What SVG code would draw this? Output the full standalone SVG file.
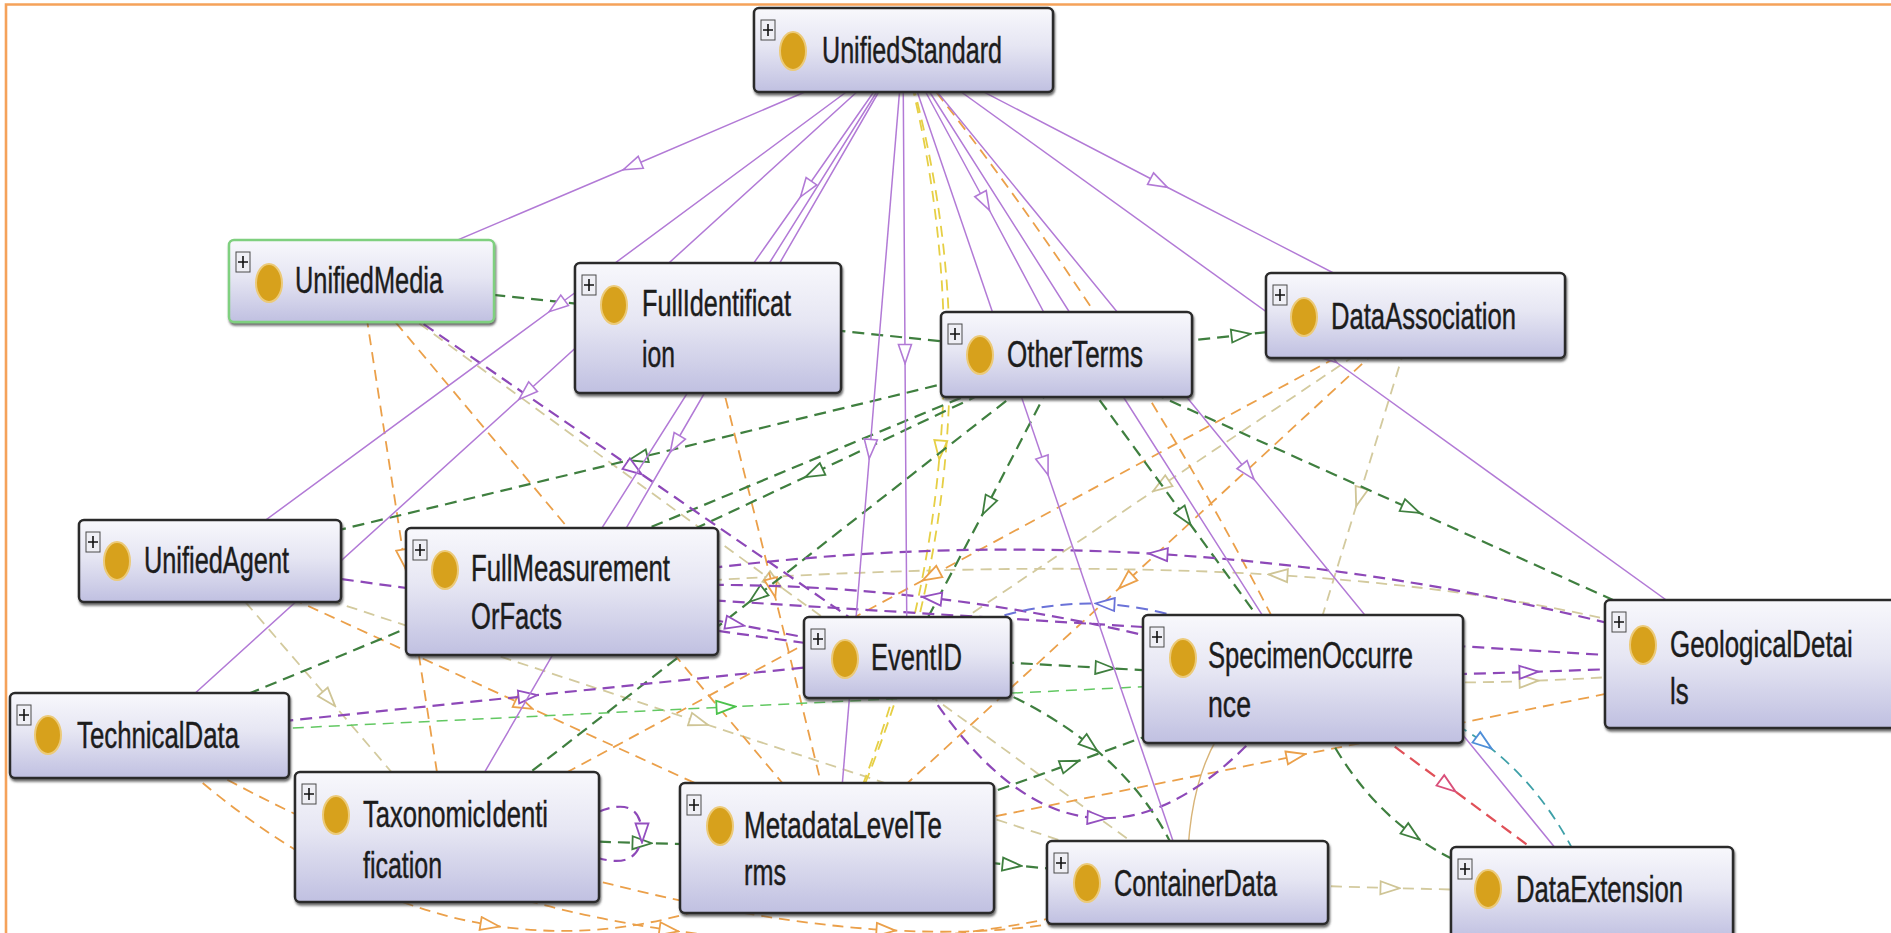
<svg xmlns="http://www.w3.org/2000/svg" width="1891" height="933" viewBox="0 0 1891 933">
  <defs>
    <linearGradient id="boxFill" x1="0" y1="0" x2="0" y2="1">
      <stop offset="0" stop-color="#f8f8fc"/>
      <stop offset="0.45" stop-color="#e6e6f3"/>
      <stop offset="1" stop-color="#c0c0e1"/>
    </linearGradient>
    <filter id="shade" x="-5%" y="-10%" width="112%" height="130%">
      <feDropShadow dx="1" dy="2.5" stdDeviation="1.2" flood-color="#3a3a3a" flood-opacity="0.75"/>
    </filter>
    <marker id="m-sub" viewBox="0 0 22 16" refX="11" refY="8" markerWidth="22" markerHeight="16" markerUnits="userSpaceOnUse" orient="auto">
      <path d="M1.5,1.5 L20.5,8 L1.5,14.5 Z" fill="#fff" stroke="#b27ad6" stroke-width="1.6"/>
    </marker>
    <marker id="m-grn" viewBox="0 0 22 16" refX="11" refY="8" markerWidth="22" markerHeight="16" markerUnits="userSpaceOnUse" orient="auto">
      <path d="M1.5,1.5 L20.5,8 L1.5,14.5 Z" fill="#fff" stroke="#3f7f3f" stroke-width="1.8"/>
    </marker>
    <marker id="m-pd" viewBox="0 0 22 16" refX="11" refY="8" markerWidth="22" markerHeight="16" markerUnits="userSpaceOnUse" orient="auto">
      <path d="M1.5,1.5 L20.5,8 L1.5,14.5 Z" fill="#fff" stroke="#9450c0" stroke-width="1.8"/>
    </marker>
    <marker id="m-org" viewBox="0 0 22 16" refX="11" refY="8" markerWidth="22" markerHeight="16" markerUnits="userSpaceOnUse" orient="auto">
      <path d="M1.5,1.5 L20.5,8 L1.5,14.5 Z" fill="#fff" stroke="#eba04a" stroke-width="1.8"/>
    </marker>
    <marker id="m-yel" viewBox="0 0 22 16" refX="11" refY="8" markerWidth="22" markerHeight="16" markerUnits="userSpaceOnUse" orient="auto">
      <path d="M1.5,1.5 L20.5,8 L1.5,14.5 Z" fill="#fff" stroke="#e6cf45" stroke-width="1.8"/>
    </marker>
    <marker id="m-bei" viewBox="0 0 22 16" refX="11" refY="8" markerWidth="22" markerHeight="16" markerUnits="userSpaceOnUse" orient="auto">
      <path d="M1.5,1.5 L20.5,8 L1.5,14.5 Z" fill="#fff" stroke="#cfc596" stroke-width="1.8"/>
    </marker>
    <marker id="m-red" viewBox="0 0 22 16" refX="11" refY="8" markerWidth="22" markerHeight="16" markerUnits="userSpaceOnUse" orient="auto">
      <path d="M1.5,1.5 L20.5,8 L1.5,14.5 Z" fill="#fff" stroke="#d9507a" stroke-width="1.8"/>
    </marker>
    <marker id="m-teal" viewBox="0 0 22 16" refX="11" refY="8" markerWidth="22" markerHeight="16" markerUnits="userSpaceOnUse" orient="auto">
      <path d="M1.5,1.5 L20.5,8 L1.5,14.5 Z" fill="#fff" stroke="#4f8fd8" stroke-width="1.8"/>
    </marker>
    <marker id="m-blue" viewBox="0 0 22 16" refX="11" refY="8" markerWidth="22" markerHeight="16" markerUnits="userSpaceOnUse" orient="auto">
      <path d="M1.5,1.5 L20.5,8 L1.5,14.5 Z" fill="#fff" stroke="#6a72d8" stroke-width="1.8"/>
    </marker>
    <marker id="m-lgrn" viewBox="0 0 22 16" refX="11" refY="8" markerWidth="22" markerHeight="16" markerUnits="userSpaceOnUse" orient="auto">
      <path d="M1.5,1.5 L20.5,8 L1.5,14.5 Z" fill="#fff" stroke="#4cc24c" stroke-width="1.8"/>
    </marker>
    <style>
      .sub { fill: none; stroke: #b27ad6; stroke-width: 1.5; marker-mid: url(#m-sub); }
      .grn { fill: none; stroke: #3f7f3f; stroke-width: 2.2; stroke-dasharray: 12 7; marker-mid: url(#m-grn); }
      .pd { fill: none; stroke: #8d48b8; stroke-width: 2.2; stroke-dasharray: 12 7; marker-mid: url(#m-pd); }
      .org { fill: none; stroke: #eba04a; stroke-width: 1.8; stroke-dasharray: 11 7; marker-mid: url(#m-org); }
      .yel { fill: none; stroke: #e6cf45; stroke-width: 1.8; stroke-dasharray: 11 7; }
      .bei { fill: none; stroke: #d3ca9e; stroke-width: 1.8; stroke-dasharray: 11 7; marker-mid: url(#m-bei); }
      .tan { fill: none; stroke: #d8b478; stroke-width: 1.4; }
      .red { fill: none; stroke: #e05058; stroke-width: 2.2; stroke-dasharray: 12 7; marker-mid: url(#m-red); }
      .teal { fill: none; stroke: #3ea0a8; stroke-width: 1.8; stroke-dasharray: 11 7; marker-mid: url(#m-teal); }
      .blue { fill: none; stroke: #6a72d8; stroke-width: 2; stroke-dasharray: 12 7; marker-mid: url(#m-blue); }
      .lgrn { fill: none; stroke: #62c862; stroke-width: 1.5; stroke-dasharray: 11 7; marker-mid: url(#m-lgrn); }
      .box { fill: url(#boxFill); stroke: #2c2c2c; stroke-width: 2.5; filter: url(#shade); }
      .box.sel { stroke: #7fd07f; }
      .tog { fill: #efeff5; stroke: #4a4a4a; stroke-width: 1; }
      .plus { stroke: #111; stroke-width: 1.6; }
      .dot { fill: #d7a11c; stroke: #ecca78; stroke-width: 2; }
      .lbl { font-family: "Liberation Sans", Arial, sans-serif; font-size: 37px; fill: #1c1c1c; stroke: #1c1c1c; stroke-width: 0.45; }
    </style>
  </defs>

  <rect width="1891" height="933" fill="#ffffff"/>
  <!-- frame -->
  <path d="M6,933 L6,4.5 L1891,4.5" fill="none" stroke="#f5a25a" stroke-width="2.6"/>

  <g id="connectors">
    <!-- object property relations -->
    <path class="bei" d="M1187,882 L1390,888 L1592,893"/>
    <path class="bei" d="M1415,315 L1359,497 L1303,679"/>
    <path class="bei" d="M1415,315 L1161,486 L907,657"/>
    <path class="bei" d="M1755,664 Q1577,594 1278,575 Q980,557 562,591"/>
    <path class="bei" d="M1303,679 Q1416,685 1529,681 Q1642,677 1755,664"/>
    <path class="bei" d="M210,561 L329,699 L447,837"/>
    <path class="bei" d="M361,281 L774,582 L1187,882"/>
    <path class="bei" d="M210,561 L699,722 L1187,882"/>
    <path class="tan" d="M1187,882 Q1187,700 1303,679"/>

    <path class="yel" d="M903,50 Q957,250 940,450 Q924,649 837,848" marker-mid="url(#m-yel)"/>
    <path class="yel" d="M903,50 Q963,250 946,450 Q930,649 837,848"/>

    <path class="org" d="M210,561 L524,705 L837,848"/>
    <path class="org" d="M361,281 L599,565 L837,848"/>
    <path class="org" d="M361,281 L404,559 L447,837"/>
    <path class="org" d="M149,735 Q318,897 490,925 Q662,953 837,848"/>
    <path class="org" d="M149,735 Q410,893 669,930 Q929,967 1187,882"/>
    <path class="org" d="M447,837 Q701,919 886,930 Q1071,941 1187,882"/>
    <path class="org" d="M1415,315 L1126,582 L837,848"/>
    <path class="org" d="M1415,315 L931,576 L447,837"/>
    <path class="org" d="M837,848 L1296,756 L1755,664"/>
    <path class="org" d="M708,328 L773,588 L837,848"/>
    <path class="org" d="M903,50 Q1022,198 1122,355 Q1222,512 1303,679"/>

    <path class="lgrn" d="M149,735 L726,707 L1303,679"/>

    <path class="grn" d="M361,281 L714,318 L1066,354"/>
    <path class="grn" d="M1066,354 L1241,335 L1415,315"/>
    <path class="grn" d="M1066,354 L638,458 L210,561"/>
    <path class="grn" d="M1066,354 L814,473 L562,591"/>
    <path class="grn" d="M1066,354 L757,596 L447,837"/>
    <path class="grn" d="M1066,354 L987,506 L907,657"/>
    <path class="grn" d="M1066,354 L1185,517 L1303,679"/>
    <path class="grn" d="M1066,354 L1411,509 L1755,664"/>
    <path class="grn" d="M1066,354 L608,545 L149,735"/>
    <path class="grn" d="M447,837 L642,843 L837,848"/>
    <path class="grn" d="M837,848 L1012,865 L1187,882"/>
    <path class="grn" d="M837,848 L1070,764 L1303,679"/>
    <path class="grn" d="M907,657 L1105,668 L1303,679"/>
    <path class="grn" d="M1303,679 Q1340,781 1412,834 Q1484,888 1592,893"/>
    <path class="grn" d="M907,657 Q1020,689 1090,745 Q1160,801 1187,882"/>

    <path class="pd" d="M361,281 L634,469 L907,657"/>
    <path class="pd" d="M210,561 L559,609 L907,657"/>
    <path class="pd" d="M149,735 L528,696 L907,657"/>
    <path class="pd" d="M562,591 L735,624 L907,657"/>
    <path class="pd" d="M562,591 L1159,628 L1755,664"/>
    <path class="pd" d="M1303,679 L1529,672 L1755,664"/>
    <path class="pd" d="M907,657 Q998,813 1097,818 Q1196,824 1303,679"/>
    <path class="pd" d="M1755,664 Q1457,572 1158,554 Q860,536 562,591"/>
    <path class="pd" d="M1303,679 Q1118,620 932,598 Q747,576 562,591"/>
    <path class="pd" d="M598,812 Q640,795 642,833 Q640,870 598,858"/>
    <path class="blue" d="M1303,679 Q1204,610 1105,604 Q1006,599 907,657"/>

    <path class="red" d="M1303,679 L1448,786 L1592,893"/>
    <path class="teal" d="M1303,679 Q1412,690 1484,743 Q1556,797 1592,893"/>

    <!-- subclass links from UnifiedStandard -->
    <path class="sub" d="M903,50 L632,166 L361,281"/>
    <path class="sub" d="M903,50 L806,189 L708,328"/>
    <path class="sub" d="M903,50 L985,202 L1066,354"/>
    <path class="sub" d="M903,50 L1159,183 L1415,315"/>
    <path class="sub" d="M903,50 L557,306 L210,561"/>
    <path class="sub" d="M903,50 L733,321 L562,591"/>
    <path class="sub" d="M903,50 L905,354 L907,657"/>
    <path class="sub" d="M903,50 L1103,365 L1303,679"/>
    <path class="sub" d="M903,50 L1329,357 L1755,664"/>
    <path class="sub" d="M903,50 L526,393 L149,735"/>
    <path class="sub" d="M903,50 L675,444 L447,837"/>
    <path class="sub" d="M903,50 L870,449 L837,848"/>
    <path class="sub" d="M903,50 L1045,466 L1187,882"/>
    <path class="sub" d="M903,50 L1248,472 L1592,893"/>
  </g>

  <g id="node-UnifiedStandard">
    <rect class="box" x="754" y="8" width="299" height="84" rx="5"/>
    <rect class="tog" x="761" y="20" width="14" height="20"/>
    <path class="plus" d="M763,30 L773,30 M768,24 L768,36"/>
    <ellipse class="dot" cx="793" cy="51" rx="13" ry="19"/>
    <text class="lbl" x="822" y="63" textLength="180" lengthAdjust="spacingAndGlyphs">UnifiedStandard</text>
  </g>

  <g id="node-UnifiedMedia">
    <rect class="box sel" x="229" y="240" width="265" height="82" rx="5"/>
    <rect class="tog" x="236" y="252" width="14" height="20"/>
    <path class="plus" d="M238,262 L248,262 M243,256 L243,268"/>
    <ellipse class="dot" cx="269" cy="283" rx="13" ry="19"/>
    <text class="lbl" x="295" y="293" textLength="148" lengthAdjust="spacingAndGlyphs">UnifiedMedia</text>
  </g>

  <g id="node-FullIdentification">
    <rect class="box" x="575" y="263" width="266" height="130" rx="5"/>
    <rect class="tog" x="582" y="275" width="14" height="20"/>
    <path class="plus" d="M584,285 L594,285 M589,279 L589,291"/>
    <ellipse class="dot" cx="614" cy="305" rx="13" ry="19"/>
    <text class="lbl" x="642" y="316" textLength="149" lengthAdjust="spacingAndGlyphs">FullIdentificat</text>
    <text class="lbl" x="642" y="367" textLength="33" lengthAdjust="spacingAndGlyphs">ion</text>
  </g>

  <g id="node-OtherTerms">
    <rect class="box" x="941" y="312" width="251" height="85" rx="5"/>
    <rect class="tog" x="948" y="324" width="14" height="20"/>
    <path class="plus" d="M950,334 L960,334 M955,328 L955,340"/>
    <ellipse class="dot" cx="980" cy="355" rx="13" ry="19"/>
    <text class="lbl" x="1007" y="367" textLength="136" lengthAdjust="spacingAndGlyphs">OtherTerms</text>
  </g>

  <g id="node-DataAssociation">
    <rect class="box" x="1266" y="273" width="299" height="85" rx="5"/>
    <rect class="tog" x="1273" y="285" width="14" height="20"/>
    <path class="plus" d="M1275,295 L1285,295 M1280,289 L1280,301"/>
    <ellipse class="dot" cx="1304" cy="317" rx="13" ry="19"/>
    <text class="lbl" x="1331" y="329" textLength="185" lengthAdjust="spacingAndGlyphs">DataAssociation</text>
  </g>

  <g id="node-UnifiedAgent">
    <rect class="box" x="79" y="520" width="262" height="82" rx="5"/>
    <rect class="tog" x="86" y="532" width="14" height="20"/>
    <path class="plus" d="M88,542 L98,542 M93,536 L93,548"/>
    <ellipse class="dot" cx="117" cy="561" rx="13" ry="19"/>
    <text class="lbl" x="144" y="573" textLength="145" lengthAdjust="spacingAndGlyphs">UnifiedAgent</text>
  </g>

  <g id="node-FullMeasurementOrFacts">
    <rect class="box" x="406" y="528" width="312" height="127" rx="5"/>
    <rect class="tog" x="413" y="540" width="14" height="20"/>
    <path class="plus" d="M415,550 L425,550 M420,544 L420,556"/>
    <ellipse class="dot" cx="445" cy="570" rx="13" ry="19"/>
    <text class="lbl" x="471" y="581" textLength="199" lengthAdjust="spacingAndGlyphs">FullMeasurement</text>
    <text class="lbl" x="471" y="629" textLength="91" lengthAdjust="spacingAndGlyphs">OrFacts</text>
  </g>

  <g id="node-EventID">
    <rect class="box" x="804" y="617" width="207" height="81" rx="5"/>
    <rect class="tog" x="811" y="629" width="14" height="20"/>
    <path class="plus" d="M813,639 L823,639 M818,633 L818,645"/>
    <ellipse class="dot" cx="845" cy="659" rx="13" ry="19"/>
    <text class="lbl" x="871" y="670" textLength="91" lengthAdjust="spacingAndGlyphs">EventID</text>
  </g>

  <g id="node-SpecimenOccurrence">
    <rect class="box" x="1143" y="615" width="320" height="128" rx="5"/>
    <rect class="tog" x="1150" y="627" width="14" height="20"/>
    <path class="plus" d="M1152,637 L1162,637 M1157,631 L1157,643"/>
    <ellipse class="dot" cx="1183" cy="658" rx="13" ry="19"/>
    <text class="lbl" x="1208" y="668" textLength="205" lengthAdjust="spacingAndGlyphs">SpecimenOccurre</text>
    <text class="lbl" x="1208" y="717" textLength="43" lengthAdjust="spacingAndGlyphs">nce</text>
  </g>

  <g id="node-GeologicalDetails">
    <rect class="box" x="1605" y="600" width="300" height="128" rx="5"/>
    <rect class="tog" x="1612" y="612" width="14" height="20"/>
    <path class="plus" d="M1614,622 L1624,622 M1619,616 L1619,628"/>
    <ellipse class="dot" cx="1643" cy="645" rx="13" ry="19"/>
    <text class="lbl" transform="translate(1670,657) scale(0.7,1)">GeologicalDetai</text>
    <text class="lbl" transform="translate(1670,704) scale(0.7,1)">ls</text>
  </g>

  <g id="node-TechnicalData">
    <rect class="box" x="10" y="693" width="279" height="85" rx="5"/>
    <rect class="tog" x="17" y="705" width="14" height="20"/>
    <path class="plus" d="M19,715 L29,715 M24,709 L24,721"/>
    <ellipse class="dot" cx="48" cy="735" rx="13" ry="19"/>
    <text class="lbl" x="77" y="748" textLength="162" lengthAdjust="spacingAndGlyphs">TechnicalData</text>
  </g>

  <g id="node-TaxonomicIdentification">
    <rect class="box" x="295" y="772" width="304" height="130" rx="5"/>
    <rect class="tog" x="302" y="784" width="14" height="20"/>
    <path class="plus" d="M304,794 L314,794 M309,788 L309,800"/>
    <ellipse class="dot" cx="336" cy="815" rx="13" ry="19"/>
    <text class="lbl" x="363" y="827" textLength="185" lengthAdjust="spacingAndGlyphs">TaxonomicIdenti</text>
    <text class="lbl" x="363" y="878" textLength="79" lengthAdjust="spacingAndGlyphs">fication</text>
  </g>

  <g id="node-MetadataLevelTerms">
    <rect class="box" x="680" y="783" width="314" height="130" rx="5"/>
    <rect class="tog" x="687" y="795" width="14" height="20"/>
    <path class="plus" d="M689,805 L699,805 M694,799 L694,811"/>
    <ellipse class="dot" cx="720" cy="826" rx="13" ry="19"/>
    <text class="lbl" x="744" y="838" textLength="198" lengthAdjust="spacingAndGlyphs">MetadataLevelTe</text>
    <text class="lbl" x="744" y="885" textLength="42" lengthAdjust="spacingAndGlyphs">rms</text>
  </g>

  <g id="node-ContainerData">
    <rect class="box" x="1047" y="841" width="281" height="83" rx="5"/>
    <rect class="tog" x="1054" y="853" width="14" height="20"/>
    <path class="plus" d="M1056,863 L1066,863 M1061,857 L1061,869"/>
    <ellipse class="dot" cx="1087" cy="883" rx="13" ry="19"/>
    <text class="lbl" x="1114" y="896" textLength="163" lengthAdjust="spacingAndGlyphs">ContainerData</text>
  </g>

  <g id="node-DataExtension">
    <rect class="box" x="1451" y="847" width="282" height="92" rx="5"/>
    <rect class="tog" x="1458" y="859" width="14" height="20"/>
    <path class="plus" d="M1460,869 L1470,869 M1465,863 L1465,875"/>
    <ellipse class="dot" cx="1488" cy="889" rx="13" ry="19"/>
    <text class="lbl" x="1516" y="902" textLength="167" lengthAdjust="spacingAndGlyphs">DataExtension</text>
  </g>
</svg>
